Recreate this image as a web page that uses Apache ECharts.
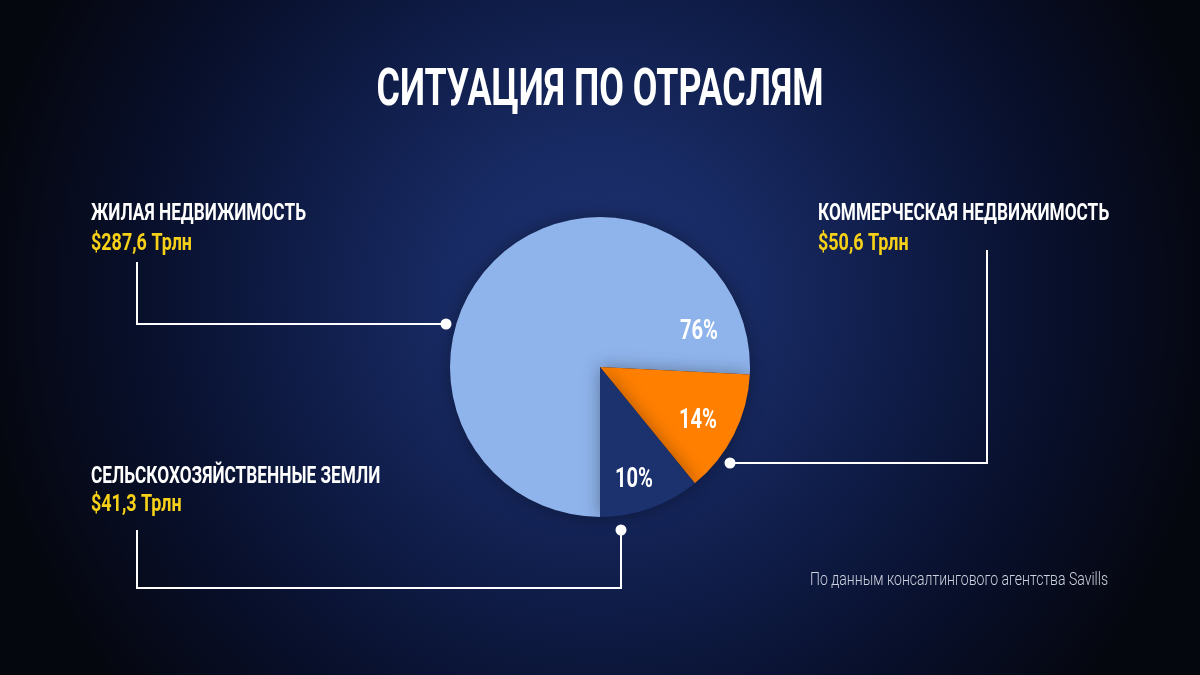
<!DOCTYPE html>
<html><head><meta charset="utf-8">
<script src="https://cdn.jsdelivr.net/npm/echarts@6/dist/echarts.min.js"></script>
<style>html,body{margin:0;padding:0;background:#05070f;}#c{width:1200px;height:675px;}</style>
</head><body><div id="c"></div>
<script>
const titleText = 'СИТУАЦИЯ ПО ОТРАСЛЯМ';
const categories = ['ЖИЛАЯ НЕДВИЖИМОСТЬ', 'КОММЕРЧЕСКАЯ НЕДВИЖИМОСТЬ', 'СЕЛЬСКОХОЗЯЙСТВЕННЫЕ ЗЕМЛИ'];
const valuesTrillions = [287.6, 50.6, 41.3];
const percentLabels = ['76%', '14%', '10%'];
const sourceText = 'По данным консалтингового агентства Savills';

const colors = ['#8fb4ec', '#ff7f00', '#1c326f'];
const FAM = 'Roboto, "DejaVu Sans", sans-serif';

const fmt = v => '$' + v.toFixed(1).replace('.', ',') + ' Трлн';

// ---- layout / style constants ----
const pctPos = [[699, 332], [698, 421], [634, 480]];
const nameY = [213.5, 213.5, 476.5];
const valY = [244, 243.5, 505];
const labelX = [91, 818, 91];
const callouts = [
  [[446, 324], [137, 324], [137, 262]],
  [[730, 463], [987, 463], [987, 250]],
  [[621, 530], [621, 588], [137, 588], [137, 530]]
];

const mctx = document.createElement('canvas').getContext('2d');
function measure(text, font) { mctx.font = font; return mctx.measureText(text).width; }

const titleFont = 'bold 52px ' + FAM;
const nameFont = 'bold 24px ' + FAM;
const valFont = 'bold 24px ' + FAM;
const pctFont = 'bold 28px ' + FAM;
const srcFont = '300 19px ' + FAM;

const nameScale = 215 / measure(categories[0], nameFont);
const valScale = 101 / measure(fmt(valuesTrillions[0]), valFont);
const titleScale = 447 / measure(titleText, titleFont);
const pctScale = 38 / measure(percentLabels[0], pctFont);
const srcScale = 298 / measure(sourceText, srcFont);

function txt(text, x, y, font, fill, scale, align, extra) {
  return Object.assign({type: 'text', x: x, y: y, scaleX: scale, z: 20,
    style: Object.assign({text: text, x: 0, y: 0, font: font, fill: fill, align: align || 'left', verticalAlign: 'middle'}, extra || {})});
}

const chart = echarts.init(document.getElementById('c'));
const graphics = [];
graphics.push(txt(titleText, 600, 92, titleFont, '#ffffff', titleScale, 'center'));
categories.forEach((name, i) => {
  graphics.push(txt(name, labelX[i], nameY[i], nameFont, '#ffffff', nameScale));
  graphics.push(txt(fmt(valuesTrillions[i]), labelX[i], valY[i], valFont, '#f7d117', valScale));
  graphics.push(txt(percentLabels[i], pctPos[i][0], pctPos[i][1], pctFont, '#ffffff', pctScale, 'center',
    {shadowColor: 'rgba(0,0,0,0.45)', shadowBlur: 4, shadowOffsetY: 2}));
  const pts = callouts[i];
  graphics.push({type: 'polyline', shape: {points: pts}, style: {stroke: '#ffffff', lineWidth: 2, fill: null}, z: 10});
  graphics.push({type: 'circle', shape: {cx: pts[0][0], cy: pts[0][1], r: 5.5}, style: {fill: '#ffffff'}, z: 11});
});
graphics.push(txt(sourceText, 1108, 580, srcFont, '#cdd2de', srcScale, 'right'));

chart.setOption({
  backgroundColor: new echarts.graphic.RadialGradient(0.5, 0.44, 0.92, [
    {offset: 0, color: '#1d3272'},
    {offset: 0.25, color: '#182a63'},
    {offset: 0.5, color: '#0f1c47'},
    {offset: 0.75, color: '#080f2a'},
    {offset: 1, color: '#05070f'}
  ]),
  color: colors,
  series: [{
    type: 'pie',
    center: [600, 367],
    radius: 150,
    startAngle: 270,
    clockwise: true,
    silent: true,
    label: {show: false},
    labelLine: {show: false},
    itemStyle: {shadowBlur: 18, shadowColor: 'rgba(0,0,0,0.35)'},
    data: categories.map((n, i) => ({name: n, value: valuesTrillions[i]}))
  }],
  graphic: graphics
});
</script></body></html>
